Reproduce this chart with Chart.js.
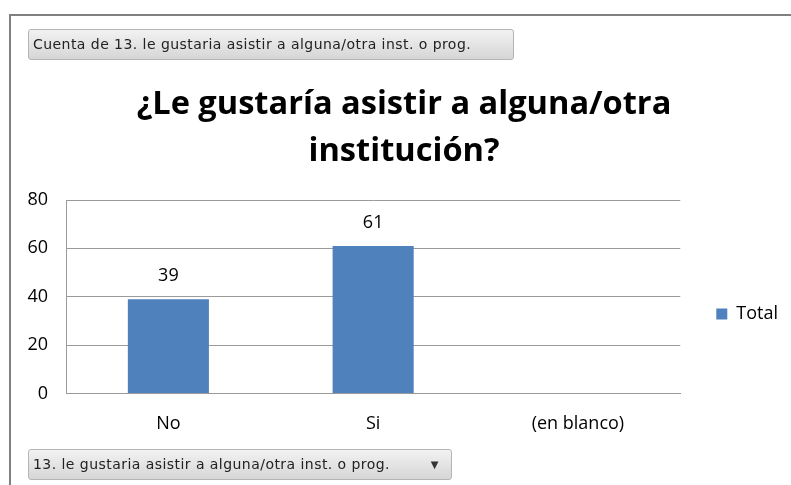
<!DOCTYPE html>
<html>
<head>
<meta charset="utf-8">
<script src="https://cdn.jsdelivr.net/npm/chart.js@4.4.0/dist/chart.umd.min.js"></script>
<style>
  html, body { margin: 0; padding: 0; background: #fff; }
  #wrap { position: relative; width: 791px; height: 485px; overflow: hidden; }
  #frame { position: absolute; left: 9px; top: 14px; width: 800px; height: 500px;
           border-top: 2px solid #808080; border-left: 2px solid #808080; }
  canvas { position: absolute; left: 0; top: 0; }
  .fieldBtn { position: absolute; left: 28px; height: 31px; box-sizing: border-box;
              border: 1px solid #b4b4b4; border-radius: 3px;
              background: linear-gradient(#f2f2f2, #d6d6d6);
              font-family: "DejaVu Sans", sans-serif; font-size: 14px; letter-spacing: 0.45px; color: #222;
              line-height: 29px; padding-left: 4px; white-space: nowrap; }
  #btnTop { top: 29px; width: 486px; }
  #btnBottom { top: 449px; width: 424px; }
  #btnBottom .arrow { position: absolute; right: 12px; top: 0; font-size: 10px; color: #333; }
</style>
</head>
<body>
<div id="wrap">
  <div id="frame"></div>
  <canvas id="myChart" width="791" height="485"></canvas>
  <div class="fieldBtn" id="btnTop">Cuenta de 13. le gustaria asistir a alguna/otra inst. o prog.</div>
  <div class="fieldBtn" id="btnBottom">13. le gustaria asistir a alguna/otra inst. o prog.<span class="arrow">&#9660;</span></div>
</div>
<script>
const categories = ['No', 'Si', '(en blanco)']
const totalValues = [39, 61, null]
const yTicks = [0, 20, 40, 60, 80]
const titleLines = ['¿Le gustaría asistir a alguna/otra', 'institución?']
const seriesName = 'Total'

const BAR_BLUE = 'rgb(79, 129, 189)'
const GRID_GREY = '#9a9a9a'
const FONT = "'Open Sans', 'DejaVu Sans', sans-serif"

// value labels above bars
const barLabels = {
    id: 'barLabels',
    afterDatasetsDraw(chart) {
        const ctx = chart.ctx
        const meta = chart.getDatasetMeta(0)
        ctx.save()
        ctx.font = `18px ${FONT}`
        ctx.fillStyle = '#000'
        ctx.textAlign = 'center'
        ctx.textBaseline = 'middle'
        meta.data.forEach((bar, i) => {
            const v = totalValues[i]
            if (v == null) return
            ctx.fillText(String(v), bar.x, bar.y - 23)
        })
        ctx.restore()
    }
}

const context = document.getElementById('myChart')
const data = {
    labels: categories,
    datasets: [
        {
            label: seriesName,
            data: totalValues,
            backgroundColor: BAR_BLUE,
            borderWidth: 0,
            categoryPercentage: 1,
            barPercentage: 0.396
        }
    ]
}
const config = {
    type: 'bar',
    data: data,
    options: {
        responsive: false,
        animation: false,
        layout: {
            padding: { left: 20, right: 3, top: 81.5, bottom: 30 }
        },
        plugins: {
            title: {
                display: true,
                text: titleLines,
                color: '#000',
                font: { family: FONT, size: 32.6, weight: 'bold', lineHeight: 1.442 },
                padding: { top: 0, bottom: 24.5 }
            },
            legend: {
                position: 'right',
                fullSize: false,
                title: { display: true, text: '', padding: 10 },
                labels: {
                    color: '#000',
                    font: { family: FONT, size: 18 },
                    boxWidth: 11,
                    boxHeight: 11,
                    padding: 36
                }
            },
            tooltip: { enabled: false }
        },
        scales: {
            x: {
                grid: { display: false, drawTicks: false },
                border: { display: true, color: GRID_GREY, width: 1 },
                ticks: { color: '#000', font: { family: FONT, size: 18 }, padding: 20 }
            },
            y: {
                min: 0,
                max: 80,
                afterBuildTicks(scale) {
                    scale.ticks = yTicks.map(v => ({ value: v }))
                },
                afterFit(scale) {
                    scale.width = 46
                },
                grid: { color: GRID_GREY, drawTicks: false },
                border: { display: true, color: GRID_GREY, width: 1 },
                ticks: { color: '#000', font: { family: FONT, size: 18 }, padding: 18 }
            }
        }
    },
    plugins: [barLabels]
}
new Chart(context, config)
</script>
</body>
</html>
